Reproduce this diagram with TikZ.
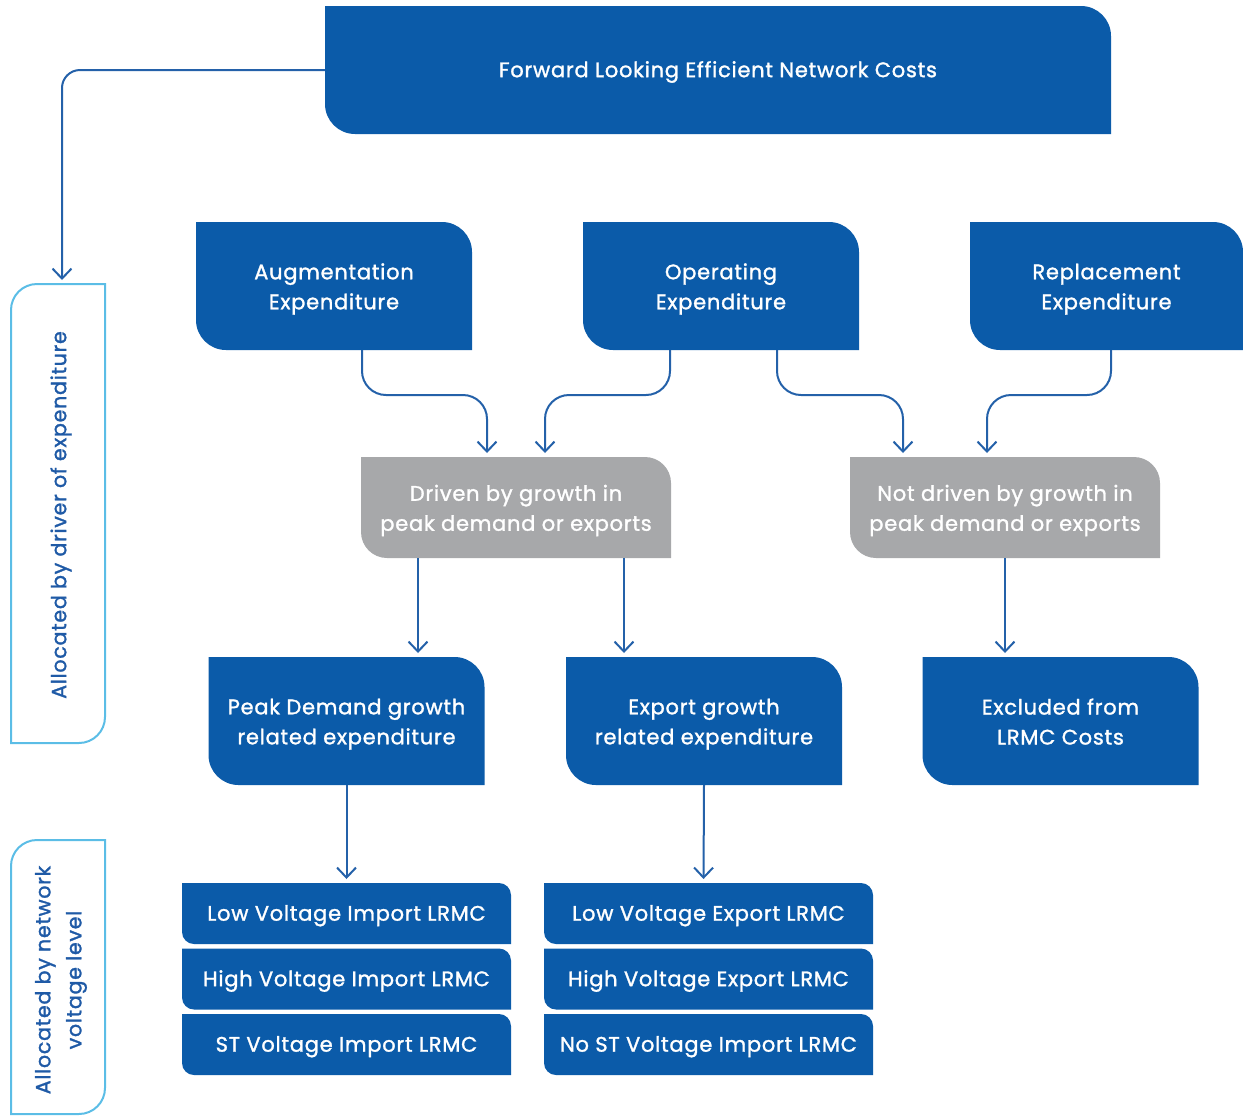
\documentclass[tikz,border=0pt]{standalone}
\usepackage{fontspec}
\setmainfont{Poppins}[LetterSpace=3.5, FakeBold=1.4]
\usetikzlibrary{arrows.meta}
\definecolor{boxblue}{HTML}{0B5BA9}
\definecolor{boxgray}{HTML}{A7A8AA}
\definecolor{lineblue}{HTML}{2461A9}
\definecolor{brk}{HTML}{5BBDE6}
\definecolor{brktext}{HTML}{1F5AA6}
\newcommand\twol[2]{\rule{0pt}{11pt}#1\\#2\rule[-2.5pt]{0pt}{2.5pt}}
\newcommand\onel[1]{\rule[-2.5pt]{0pt}{12.5pt}#1}
\tikzset{
  cbox/.style 2 args={inner sep=0pt, outer sep=0pt, align=center, text=white,
    font=\fontsize{10.5}{15}\selectfont,
    path picture={\fill[#1] (path picture bounding box.north west)
      -- ([xshift=-#2]path picture bounding box.north east)
      arc[start angle=90,end angle=0,radius=#2]
      -- (path picture bounding box.south east)
      -- ([xshift=#2]path picture bounding box.south west)
      arc[start angle=270,end angle=180,radius=#2] -- cycle;}},
  bigbox/.style={cbox={boxblue}{15pt}, minimum width=138pt, minimum height=64pt},
  graybox/.style={cbox={boxgray}{13pt}, minimum width=155pt, minimum height=50.5pt},
  lrmc/.style={cbox={boxblue}{6pt}, minimum width=164.5pt, minimum height=30.5pt},
  conn/.style={draw=lineblue, line width=1pt, rounded corners=12pt,
    -{Straight Barb[length=5pt,width=9.5pt]}, shorten >=2pt},
  bracket/.style={inner sep=0pt, outer sep=0pt, minimum width=47pt},
  brktxt/.style={rotate=90, text=brktext, align=center,
    font=\fontsize{10.3}{15.5}\selectfont},
  brkline/.style={draw=brk, line width=1pt},
}
\begin{document}
\begin{tikzpicture}[x=0.5pt, y=-0.5pt]
\useasboundingbox (0,0) rectangle (1243,1115);

\node[bigbox, minimum width=393pt] (top) at (718,70) {\onel{Forward Looking Efficient Network Costs}};

\node[bigbox] (aug) at (334,286) {\twol{Augmentation}{Expenditure}};
\node[bigbox] (op) at (721,286) {\twol{Operating}{Expenditure}};
\node[bigbox, minimum width=136.5pt] (rep) at (1106.5,286) {\twol{Replacement}{Expenditure}};

\node[graybox] (drv) at (516,507.5) {\twol{Driven by growth in}{peak demand or exports}};
\node[graybox] (ndrv) at (1005,507.5) {\twol{Not driven by growth in}{peak demand or exports}};

\node[bigbox] (peak) at (346.5,721) {\twol{Peak Demand growth}{related expenditure}};
\node[bigbox] (exp) at (704,721) {\twol{Export growth}{related expenditure}};
\node[bigbox] (excl) at (1060.5,721) {\twol{Excluded from}{LRMC Costs}};

\node[lrmc] (l1) at (346.5,913.5) {\onel{Low Voltage Import LRMC}};
\node[lrmc] (l2) at (346.5,979) {\onel{High Voltage Import LRMC}};
\node[lrmc] (l3) at (346.5,1044.5) {\onel{ST Voltage Import LRMC}};
\node[lrmc] (r1) at (708.5,913.5) {\onel{Low Voltage Export LRMC}};
\node[lrmc] (r2) at (708.5,979) {\onel{High Voltage Export LRMC}};
\node[lrmc] (r3) at (708.5,1044.5) {\onel{No ST Voltage Import LRMC}};

% side brackets
\node[bracket, minimum height=229.5pt] (b1) at (58,513.5) {};
\node[bracket, minimum height=137pt] (b2) at (58,977) {};
\foreach \b in {b1,b2}{
  \draw[brkline] ([xshift=13pt]\b.north west) -- (\b.north east)
    -- ([yshift=13pt]\b.south east) arc[start angle=0,end angle=-90,radius=13pt]
    -- (\b.south west) -- ([yshift=-13pt]\b.north west)
    arc[start angle=180,end angle=90,radius=13pt] -- cycle;
}
\node[brktxt] (t1) at (61,515) {Allocated by driver of expenditure};
\node[brktxt] (t2) at (61,980) {Allocated by network\\voltage level};

% connectors
\draw[conn, rounded corners=9pt] (top.west) -| ([xshift=2pt]b1.north);
\draw[conn] ([xshift=14pt]aug.south) -- ++(0,45) -| ([xshift=-14.5pt]drv.north);
\draw[conn] ([xshift=-25.5pt]op.south) -- ++(0,45) -| ([xshift=14.5pt]drv.north);
\draw[conn] ([xshift=28pt]op.south) -- ++(0,45) -| ([xshift=-51pt]ndrv.north);
\draw[conn] ([xshift=2.25pt]rep.south) -- ++(0,45) -| ([xshift=-9pt]ndrv.north);
\draw[conn] ([xshift=-49pt]drv.south) -- ([xshift=35.75pt]peak.north);
\draw[conn] ([xshift=54pt]drv.south) -- ([xshift=-40pt]exp.north);
\draw[conn] (ndrv.south) -- ([xshift=-27.75pt]excl.north);
\draw[conn] (peak.south) -- (l1.north);
\draw[conn] (exp.south) -- ([xshift=-2.5pt]r1.north);
\end{tikzpicture}
\end{document}
